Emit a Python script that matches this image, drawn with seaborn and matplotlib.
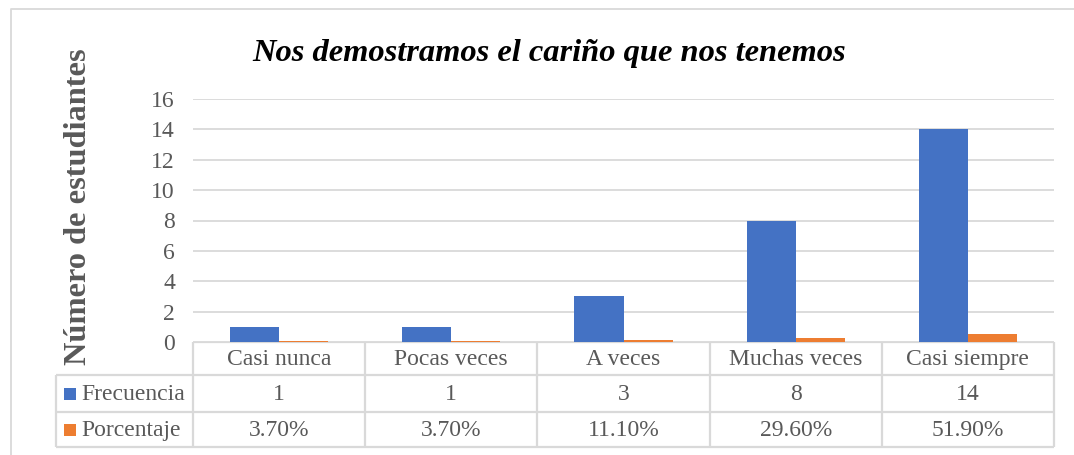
import pandas as pd
import numpy as np
import matplotlib
matplotlib.use("Agg")
import matplotlib.pyplot as plt
import seaborn as sns

categorias = ["Casi nunca", "Pocas veces", "A veces", "Muchas veces", "Casi siempre"]
frecuencia = [1, 1, 3, 8, 14]
porcentaje = [0.037, 0.037, 0.111, 0.296, 0.519]
etiquetas_pct = ["3.70%", "3.70%", "11.10%", "29.60%", "51.90%"]
series = ["Frecuencia", "Porcentaje"]
colores = ["#4472C4", "#ED7D31"]

sns.set_style("white")
plt.rcParams['font.family'] = ['Liberation Serif', 'DejaVu Serif']

df = pd.DataFrame({
    "categoria": categorias * 2,
    "serie": [series[0]] * 5 + [series[1]] * 5,
    "valor": frecuencia + porcentaje,
})

W, H = 1074, 455
fig = plt.figure(figsize=(W / 100, H / 100), dpi=100)
gris = "#595959"
linea = "#D9D9D9"

# zona del grafico en pixeles
x0, x1, y0, y1 = 193, 1054, 99, 342
ax = fig.add_axes([x0 / W, 1 - y1 / H, (x1 - x0) / W, (y1 - y0) / H])
sns.barplot(data=df, x="categoria", y="valor", hue="serie", palette=colores,
            width=0.57, gap=0, saturation=1, linewidth=0, ax=ax, legend=False)
ax.set_ylim(0, 16)
ax.set_xlim(-0.5, 4.5)
ax.set_yticks(range(0, 17, 2))
ax.yaxis.grid(True, color=linea, lw=1.3)
ax.set_axisbelow(True)
for s in ax.spines.values():
    s.set_visible(False)
ax.set_xlabel("")
ax.set_ylabel("")
ax.set_xticks([])
ax.tick_params(axis="y", length=0, pad=13, labelsize=17, labelcolor=gris)

# capa para titulo, tabla de datos y borde
ov = fig.add_axes([0, 0, 1, 1], zorder=-1)
ov.set_xlim(0, W)
ov.set_ylim(H, 0)
ov.axis("off")
ov.patch.set_alpha(0)

ov.plot([11, 11, W + 5], [H + 5, 9, 9], color=linea, lw=1.3)

ov.text(549, 53, "Nos demostramos el cariño que nos tenemos", ha="center", va="center",
        fontsize=23.4, fontweight="bold", fontstyle="italic", color="black")
ov.text(79, 207, "Número de estudiantes", ha="center", va="center", rotation=90,
        fontsize=23.3, fontweight="bold", color=gris)

# tabla de datos
filas = [342, 375, 412, 447]
colw = (x1 - x0) / len(categorias)
kw = dict(color=linea, lw=1.6, solid_capstyle="butt")
ov.plot([x0, x1], [filas[0], filas[0]], **kw)
for yy in filas[1:]:
    ov.plot([56, x1], [yy, yy], **kw)
for i in range(len(categorias) + 1):
    xx = x0 + i * colw
    ov.plot([xx, xx], [filas[0], filas[-1]], **kw)
ov.plot([56, 56], [filas[1], filas[-1]], **kw)

fs = 17
for i, cat in enumerate(categorias):
    cx = x0 + (i + 0.5) * colw
    ov.text(cx, (filas[0] + filas[1]) / 2 + 1, cat, ha="center", va="center", fontsize=fs, color=gris)
    ov.text(cx, (filas[1] + filas[2]) / 2 + 1, str(frecuencia[i]), ha="center", va="center", fontsize=fs, color=gris)
    ov.text(cx, (filas[2] + filas[3]) / 2 + 1, etiquetas_pct[i], ha="center", va="center", fontsize=fs, color=gris)

for j, (nombre, c) in enumerate(zip(series, colores)):
    cy = (filas[j + 1] + filas[j + 2]) / 2
    ov.add_patch(plt.Rectangle((64, cy - 6), 12, 12, color=c, lw=0))
    ov.text(81, cy + 1, nombre, ha="left", va="center", fontsize=fs, color=gris)

fig.savefig("out.png", dpi=100, facecolor="white")
